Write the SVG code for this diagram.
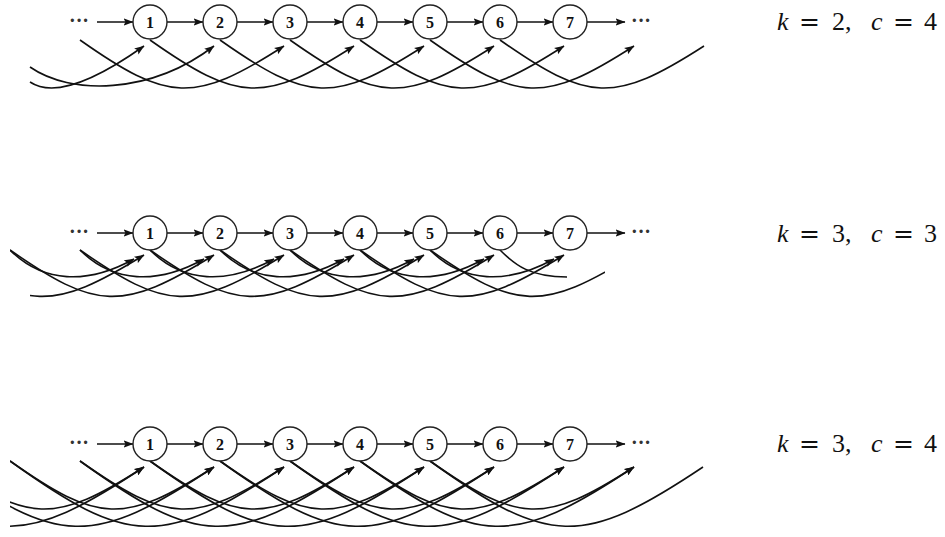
<svg xmlns="http://www.w3.org/2000/svg" width="945" height="537" viewBox="0 0 945 537">
<defs>
<marker id="ah" viewBox="0 0 10 8" refX="9.5" refY="4" markerWidth="10" markerHeight="8" markerUnits="userSpaceOnUse" orient="auto"><path d="M0,0.3 L10,4 L0,7.7 L2,4 z" fill="#111"/></marker>
<clipPath id="c2"><rect x="10" y="200" width="595" height="120"/></clipPath>
<clipPath id="c2b"><rect x="30" y="200" width="575" height="120"/></clipPath>
<clipPath id="c3"><rect x="10" y="420" width="695" height="117"/></clipPath>
</defs>
<style>
.nd circle{fill:#fff;stroke:#222;stroke-width:1.4}
.nd text{font-family:"Liberation Serif",serif;font-weight:bold;font-size:16px;text-anchor:middle;fill:#111}
.h{stroke:#111;stroke-width:1.4;fill:none;marker-end:url(#ah)}
.cv path{stroke:#111;stroke-width:1.6;fill:none}
.cv path.a{marker-end:url(#ah)}
.dots{font-family:"Liberation Serif",serif;font-size:20px;font-weight:bold;fill:#333;text-anchor:middle}
.lbl{font-family:"Liberation Serif",serif;font-size:26px;fill:#111}
.it{font-style:italic}
.eq{font-family:"DejaVu Serif",serif;font-size:25px}
</style>
<rect width="945" height="537" fill="#fff"/>

<g id="connectors">
<!-- row 1 horizontal -->
<path class="h" d="M97,22H133"/><path class="h" d="M167,22H203"/><path class="h" d="M237,22H273"/><path class="h" d="M307,22H343"/><path class="h" d="M377,22H413"/><path class="h" d="M447,22H483"/><path class="h" d="M517,22H553"/><path class="h" d="M587,22H625"/>
<!-- row 2 horizontal -->
<path class="h" d="M97,233H133"/><path class="h" d="M167,233H203"/><path class="h" d="M237,233H273"/><path class="h" d="M307,233H343"/><path class="h" d="M377,233H413"/><path class="h" d="M447,233H483"/><path class="h" d="M517,233H553"/><path class="h" d="M587,233H625"/>
<!-- row 3 horizontal -->
<path class="h" d="M97,444H133"/><path class="h" d="M167,444H203"/><path class="h" d="M237,444H273"/><path class="h" d="M307,444H343"/><path class="h" d="M377,444H413"/><path class="h" d="M447,444H483"/><path class="h" d="M517,444H553"/><path class="h" d="M587,444H625"/>

<!-- row 1 curves -->
<g class="cv">
<path class="a" d="M30,82 C45,92 75,95 144,46"/>
<path class="a" d="M30,67 C70,95 150,95 214,46"/>
<path class="a" d="M80,40 c88,62 114,64 204,6"/>
<path class="a" d="M150,40 c88,62 114,64 204,6"/>
<path class="a" d="M220,40 c88,62 114,64 204,6"/>
<path class="a" d="M290,40 c88,62 114,64 204,6"/>
<path class="a" d="M360,40 c88,62 114,64 204,6"/>
<path class="a" d="M430,40 c88,62 114,64 204,6"/>
<path d="M500,40 c88,62 114,64 204,6"/>
</g>

<!-- row 2 curves -->
<g class="cv" clip-path="url(#c2)">
<path class="a" d="M10,250 c33,33 77,35 124,9"/>
<path class="a" d="M80,250 c33,33 77,35 124,9"/>
<path class="a" d="M150,250 c33,33 77,35 124,9"/>
<path class="a" d="M220,250 c33,33 77,35 124,9"/>
<path class="a" d="M290,250 c33,33 77,35 124,9"/>
<path class="a" d="M360,250 c33,33 77,35 124,9"/>
<path class="a" d="M430,250 c33,33 77,35 124,9"/>
<path d="M500,250 c15,15 30,27 67,27"/>
<path class="a" d="M10,250 c86,60 112,62 204,5"/>
<path class="a" d="M80,250 c86,60 112,62 204,5"/>
<path class="a" d="M150,250 c86,60 112,62 204,5"/>
<path class="a" d="M220,250 c86,60 112,62 204,5"/>
<path class="a" d="M290,250 c86,60 112,62 204,5"/>
<path class="a" d="M360,250 c86,60 112,62 204,5"/>
<path d="M430,250 c86,60 112,62 204,5"/>
</g>
<g class="cv" clip-path="url(#c2b)">
<path class="a" d="M-60,250 c86,60 112,62 204,5"/>
</g>

<!-- row 3 curves -->
<g class="cv" clip-path="url(#c3)">
<path class="a" d="M-60,461 c88,62 114,64 204,6"/>
<path class="a" d="M10,461 c88,62 114,64 204,6"/>
<path class="a" d="M80,461 c88,62 114,64 204,6"/>
<path class="a" d="M150,461 c88,62 114,64 204,6"/>
<path class="a" d="M220,461 c88,62 114,64 204,6"/>
<path class="a" d="M290,461 c88,62 114,64 204,6"/>
<path class="a" d="M360,461 c88,62 114,64 204,6"/>
<path class="a" d="M430,461 c88,62 114,64 204,6"/>
<path class="a" d="M-130,461 c118,85 152,87 274,6"/>
<path class="a" d="M-60,461 c118,85 152,87 274,6"/>
<path class="a" d="M10,461 c118,85 152,87 274,6"/>
<path class="a" d="M80,461 c118,85 152,87 274,6"/>
<path class="a" d="M150,461 c118,85 152,87 274,6"/>
<path class="a" d="M220,461 c118,85 152,87 274,6"/>
<path class="a" d="M290,461 c118,85 152,87 274,6"/>
<path class="a" d="M360,461 c118,85 152,87 274,6"/>
<path d="M430,461 c118,85 152,87 273,6"/>
</g>
</g>

<!-- dots -->
<text class="dots" x="79" y="27">···</text><text class="dots" x="641" y="27">···</text>
<text class="dots" x="79" y="238">···</text><text class="dots" x="641" y="238">···</text>
<text class="dots" x="79" y="449">···</text><text class="dots" x="641" y="449">···</text>

<!-- row 1 nodes -->
<g id="r1n1" class="nd"><circle cx="150" cy="22" r="17"/><text x="150" y="27.5">1</text></g>
<g id="r1n2" class="nd"><circle cx="220" cy="22" r="17"/><text x="220" y="27.5">2</text></g>
<g id="r1n3" class="nd"><circle cx="290" cy="22" r="17"/><text x="290" y="27.5">3</text></g>
<g id="r1n4" class="nd"><circle cx="360" cy="22" r="17"/><text x="360" y="27.5">4</text></g>
<g id="r1n5" class="nd"><circle cx="430" cy="22" r="17"/><text x="430" y="27.5">5</text></g>
<g id="r1n6" class="nd"><circle cx="500" cy="22" r="17"/><text x="500" y="27.5">6</text></g>
<g id="r1n7" class="nd"><circle cx="570" cy="22" r="17"/><text x="570" y="27.5">7</text></g>
<!-- row 2 nodes -->
<g id="r2n1" class="nd"><circle cx="150" cy="233" r="17"/><text x="150" y="238.5">1</text></g>
<g id="r2n2" class="nd"><circle cx="220" cy="233" r="17"/><text x="220" y="238.5">2</text></g>
<g id="r2n3" class="nd"><circle cx="290" cy="233" r="17"/><text x="290" y="238.5">3</text></g>
<g id="r2n4" class="nd"><circle cx="360" cy="233" r="17"/><text x="360" y="238.5">4</text></g>
<g id="r2n5" class="nd"><circle cx="430" cy="233" r="17"/><text x="430" y="238.5">5</text></g>
<g id="r2n6" class="nd"><circle cx="500" cy="233" r="17"/><text x="500" y="238.5">6</text></g>
<g id="r2n7" class="nd"><circle cx="570" cy="233" r="17"/><text x="570" y="238.5">7</text></g>
<!-- row 3 nodes -->
<g id="r3n1" class="nd"><circle cx="150" cy="444" r="17"/><text x="150" y="449.5">1</text></g>
<g id="r3n2" class="nd"><circle cx="220" cy="444" r="17"/><text x="220" y="449.5">2</text></g>
<g id="r3n3" class="nd"><circle cx="290" cy="444" r="17"/><text x="290" y="449.5">3</text></g>
<g id="r3n4" class="nd"><circle cx="360" cy="444" r="17"/><text x="360" y="449.5">4</text></g>
<g id="r3n5" class="nd"><circle cx="430" cy="444" r="17"/><text x="430" y="449.5">5</text></g>
<g id="r3n6" class="nd"><circle cx="500" cy="444" r="17"/><text x="500" y="449.5">6</text></g>
<g id="r3n7" class="nd"><circle cx="570" cy="444" r="17"/><text x="570" y="449.5">7</text></g>

<!-- labels -->
<text class="lbl" y="30"><tspan x="777" class="it">k</tspan><tspan x="799" class="eq">=</tspan><tspan x="832">2,</tspan><tspan x="871" class="it">c</tspan><tspan x="893" class="eq">=</tspan><tspan x="924">4</tspan></text>
<text class="lbl" y="242"><tspan x="777" class="it">k</tspan><tspan x="799" class="eq">=</tspan><tspan x="832">3,</tspan><tspan x="871" class="it">c</tspan><tspan x="893" class="eq">=</tspan><tspan x="924">3</tspan></text>
<text class="lbl" y="452"><tspan x="777" class="it">k</tspan><tspan x="799" class="eq">=</tspan><tspan x="832">3,</tspan><tspan x="871" class="it">c</tspan><tspan x="893" class="eq">=</tspan><tspan x="924">4</tspan></text>
</svg>
